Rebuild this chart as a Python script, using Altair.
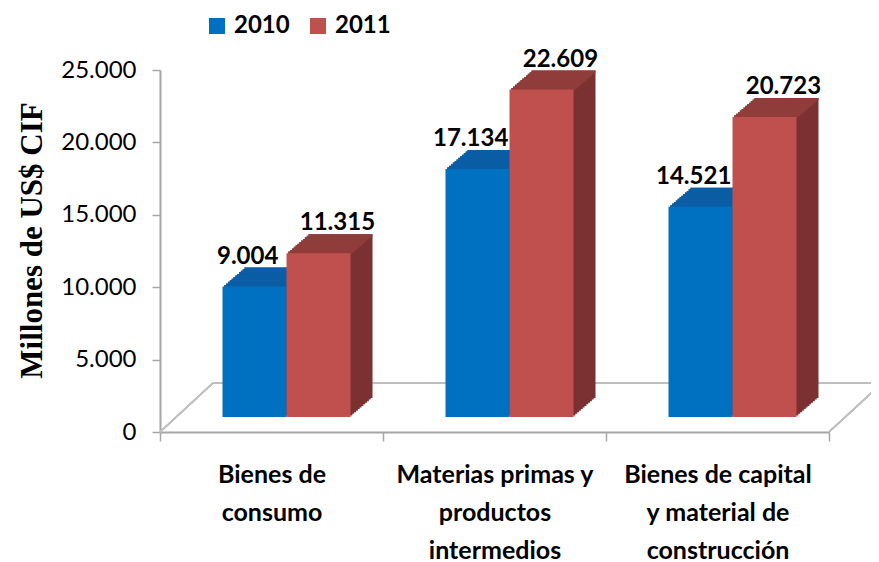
import altair as alt
import pandas as pd

categories = [
    "Bienes de\nconsumo",
    "Materias primas y\nproductos\nintermedios",
    "Bienes de capital\ny material de\nconstrucción",
]
years = ["2010", "2011"]
values_2010 = [9004, 17134, 14521]
values_2011 = [11315, 22609, 20723]
y_ticks = [0, 5000, 10000, 15000, 20000, 25000]

rows = []
for c, v10, v11 in zip(categories, values_2010, values_2011):
    rows.append({"cat": c, "year": "2010", "value": v10})
    rows.append({"cat": c, "year": "2011", "value": v11})
df = pd.DataFrame(rows)

SANS = "Lato, sans-serif"
SERIF = "Liberation Serif, DejaVu Serif, serif"
GRAY = "#A6A6A6"

x_enc = alt.X(
    "cat:N",
    sort=categories,
    scale=alt.Scale(domain=categories, paddingInner=0, paddingOuter=0),
    axis=alt.Axis(
        title=None,
        labelAngle=0,
        labelExpr="split(datum.label, '\\n')",
        labelFont=SANS,
        labelFontSize=25,
        labelFontWeight="bold",
        labelColor="#000000",
        labelLineHeight=38,
        labelPadding=21,
        labelLimit=400,
        tickBand="extent",
        tickSize=9,
        tickColor=GRAY,
        tickWidth=1.5,
        domainColor=GRAY,
        domainWidth=2,
    ),
)

y_axis = alt.Axis(
    values=y_ticks,
    grid=False,
    title="Millones de US$ CIF",
    titleFont=SERIF,
    titleFontSize=31,
    titleFontWeight="bold",
    titleColor="#000000",
    titleX=-128,
    titleY=170,
    titleAngle=-90,
    titleAlign="center",
    titleBaseline="middle",
    labelExpr="replace(format(datum.value, ','), ',', '.')",
    labelFont=SANS,
    labelFontSize=24,
    labelColor="#000000",
    labelPadding=16,
    tickSize=8,
    tickColor=GRAY,
    tickWidth=1.5,
    domainColor=GRAY,
    domainWidth=2,
)
y_scale = alt.Scale(domain=[0, 25000], nice=False)


def y_enc():
    return alt.Y("value:Q", scale=y_scale, axis=y_axis)


# xOffset scale: two bars of ~64 px inside each 223 px category band,
# "align" moves the pair inside the band (used for the 3D depth shift)
OUTER = 0.742
FRONT_ALIGN = 0.658
DEPTH_X, DEPTH_Y, LIFT = 22, 19, 15
SPARE = 95.0  # px of free room in each band


def off_enc(dx=0.0):
    return alt.XOffset(
        "year:N",
        scale=alt.Scale(domain=years, paddingInner=0, paddingOuter=OUTER,
                        align=FRONT_ALIGN + dx / SPARE),
    )


base = alt.Chart(df)

# decorative floor outline (3D look)
floor_left = alt.Chart(df).mark_rule(color="#BFBFBF", strokeWidth=1.5).encode(
    x=alt.value(0), y=alt.value(362), x2=alt.value(53), y2=alt.value(313)
)
floor_back = alt.Chart(df).mark_rule(color="#BFBFBF", strokeWidth=2).encode(
    x=alt.value(53), y=alt.value(313), x2=alt.value(730), y2=alt.value(313)
)
floor_right = alt.Chart(df).mark_rule(color="#BFBFBF", strokeWidth=1.5).encode(
    x=alt.value(669), y=alt.value(362), x2=alt.value(722), y2=alt.value(313)
)

N = 12
side_layers = []
top_layers = []
for k in range(1, N + 1):
    dx = DEPTH_X * k / N
    dy = DEPTH_Y * k / N
    side_layers.append(
        base.mark_bar(yOffset=-LIFT - dy, y2Offset=-LIFT - dy).encode(
            x=x_enc,
            xOffset=off_enc(dx),
            y=y_enc(),
            color=alt.condition(alt.datum.year == "2010",
                                alt.value("#0A4F8C"), alt.value("#7B3131")),
        )
    )
    top_layers.append(
        base.mark_bar(yOffset=-LIFT - dy,
                      y2Offset=-LIFT - dy + DEPTH_Y / N + 0.8).encode(
            x=x_enc,
            xOffset=off_enc(dx),
            y=y_enc(),
            y2="value:Q",
            color=alt.condition(alt.datum.year == "2010",
                                alt.value("#0B5DA5"), alt.value("#8F3C3B")),
        )
    )

fronts = base.mark_bar(yOffset=-LIFT, y2Offset=-LIFT).encode(
    x=x_enc,
    xOffset=off_enc(0),
    y=y_enc(),
    color=alt.Color(
        "year:N",
        scale=alt.Scale(domain=years, range=["#0070C0", "#C0504D"]),
        legend=alt.Legend(
            title=None,
            orient="none",
            legendX=45,
            legendY=-56,
            direction="horizontal",
            symbolType="square",
            symbolSize=256,
            symbolStrokeWidth=0,
            labelFont=SANS,
            labelFontSize=24,
            labelFontWeight="bold",
            labelColor="#000000",
            labelOffset=5,
            columnPadding=16,
            padding=0,
        ),
    ),
)

labels = base.transform_calculate(
    label="replace(format(datum.value, ','), ',', '.')"
).mark_text(
    dy=-38, baseline="alphabetic", align="center",
    font=SANS, fontSize=24, fontWeight="bold", color="#000000",
).encode(
    x=x_enc,
    xOffset=off_enc(0),
    y=y_enc(),
    text="label:N",
)

chart = (
    alt.layer(floor_left, floor_back, floor_right, *side_layers, *top_layers,
              fronts, labels)
    .resolve_scale(xOffset="independent")
    .properties(
        width=669,
        height=362,
        padding={"left": 152, "top": 62, "right": 42, "bottom": 130},
        autosize=alt.AutoSizeParams(type="none"),
        background="#FFFFFF",
    )
    .configure_view(stroke=None)
)

chart.save("out.html", embed_options={"renderer": "svg", "actions": False})
